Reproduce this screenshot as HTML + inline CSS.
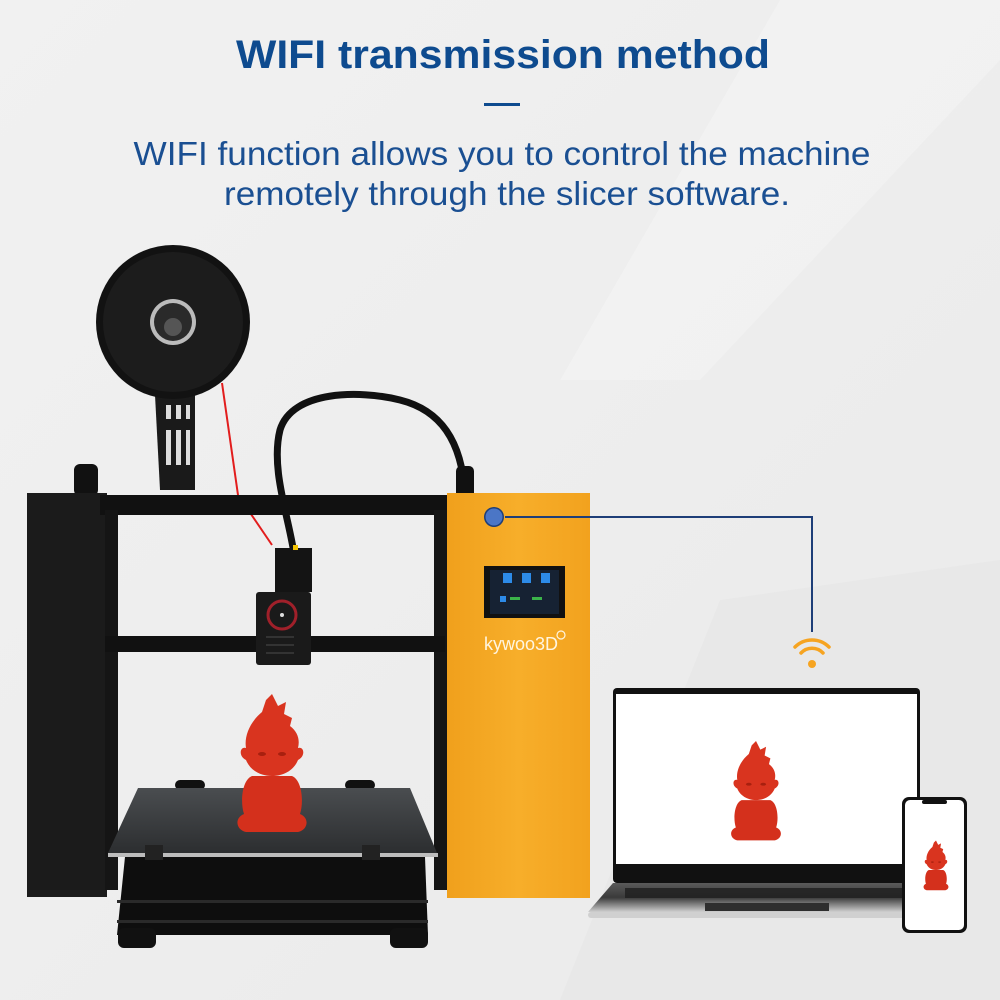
<!DOCTYPE html>
<html><head><meta charset="utf-8"><style>
html,body{margin:0;padding:0;width:1000px;height:1000px;overflow:hidden}
svg{display:block}
</style></head><body>
<svg width="1000" height="1000" viewBox="0 0 1000 1000" xmlns="http://www.w3.org/2000/svg">
<defs>
<linearGradient id="bg" x1="0" y1="0" x2="1" y2="1"><stop offset="0" stop-color="#f1f1f1"/><stop offset="1" stop-color="#eaeaea"/></linearGradient>
<linearGradient id="or" x1="0" y1="0" x2="1" y2="0"><stop offset="0" stop-color="#f0a01c"/><stop offset="0.5" stop-color="#f7ae2a"/><stop offset="1" stop-color="#f2a21e"/></linearGradient>
<linearGradient id="bed" x1="0" y1="0" x2="0" y2="1"><stop offset="0" stop-color="#4a4d50"/><stop offset="1" stop-color="#2c2e30"/></linearGradient>
<linearGradient id="kb" x1="0" y1="0" x2="0" y2="1"><stop offset="0" stop-color="#5a5a5a"/><stop offset="0.5" stop-color="#3a3a3a"/><stop offset="1" stop-color="#cfcfcf"/></linearGradient>
<g id="fig">
<path d="M0,-68 L6,-56 L14,-60 L12,-48 L20,-44 L18,-36 C26,-30 28,-22 26,-14 C32,-16 34,-6 26,-2 C22,8 12,14 0,14 C-12,14 -22,8 -26,-2 C-34,-6 -32,-16 -26,-14 C-28,-26 -22,-40 -10,-50 L-6,-62 Z" fill="#d9341f"/>
<path d="M-20,14 C-30,18 -32,40 -28,52 C-38,56 -36,68 -26,70 L26,70 C36,68 38,56 28,52 C32,40 30,18 20,14 Z" fill="#d4301c"/>
<ellipse cx="-10" cy="-8" rx="4" ry="2" fill="#a8200f"/><ellipse cx="10" cy="-8" rx="4" ry="2" fill="#a8200f"/>
</g>
</defs>
<rect width="1000" height="1000" fill="url(#bg)"/>
<polygon points="780,0 1000,0 1000,60 700,380 560,380" fill="#f5f5f5" opacity="0.5"/>
<polygon points="720,600 1000,560 1000,1000 560,1000" fill="#e6e6e6" opacity="0.6"/>

<text x="503" y="68" text-anchor="middle" font-family="Liberation Sans, sans-serif" font-weight="bold" font-size="40" fill="#0e4b8f" textLength="534" lengthAdjust="spacingAndGlyphs">WIFI transmission method</text>
<rect x="484" y="103" width="36" height="3" fill="#0e4b8f"/>
<text x="502" y="165" text-anchor="middle" font-family="Liberation Sans, sans-serif" font-size="33" fill="#1a4f92" textLength="737" lengthAdjust="spacingAndGlyphs">WIFI function allows you to control the machine</text>
<text x="507" y="205" text-anchor="middle" font-family="Liberation Sans, sans-serif" font-size="33" fill="#1a4f92" textLength="566" lengthAdjust="spacingAndGlyphs">remotely through the slicer software.</text>

<!-- spool holder -->
<path d="M155,395 L195,395 L195,490 L160,490 Z" fill="#1a1a1a"/>
<rect x="166" y="405" width="5" height="14" fill="#ddd"/><rect x="176" y="405" width="5" height="14" fill="#ddd"/><rect x="186" y="405" width="4" height="14" fill="#ddd"/>
<rect x="166" y="430" width="5" height="35" fill="#ddd"/><rect x="176" y="430" width="5" height="35" fill="#ddd"/><rect x="186" y="430" width="4" height="35" fill="#ddd"/>
<circle cx="173" cy="322" r="77" fill="#121212"/>
<circle cx="173" cy="322" r="70" fill="#1c1c1c"/>
<circle cx="173" cy="322" r="23" fill="#bbb"/>
<circle cx="173" cy="322" r="19" fill="#2a2a2a"/>
<circle cx="173" cy="327" r="9" fill="#555"/>
<path d="M222,383 L238,495 L272,545" stroke="#e21d1d" stroke-width="2" fill="none"/>

<!-- cable -->
<path d="M295,560 C290,520 270,470 280,430 C292,390 360,390 400,400 C440,410 462,440 465,495" stroke="#111" stroke-width="7" fill="none"/>

<!-- frame -->
<rect x="74" y="464" width="24" height="32" rx="6" fill="#111"/>
<rect x="456" y="466" width="18" height="32" rx="5" fill="#111"/>
<rect x="27" y="493" width="80" height="404" fill="#1b1b1b"/>
<rect x="100" y="495" width="350" height="20" fill="#111"/>
<rect x="105" y="510" width="13" height="380" fill="#151515"/>
<rect x="434" y="510" width="14" height="380" fill="#151515"/>
<rect x="105" y="636" width="340" height="16" fill="#111"/>

<!-- extruder -->
<rect x="275" y="548" width="37" height="44" fill="#141414"/>
<rect x="256" y="592" width="55" height="73" rx="3" fill="#1a1a1a"/>
<circle cx="282" cy="615" r="14" fill="none" stroke="#a0202a" stroke-width="3"/>
<circle cx="282" cy="615" r="2" fill="#ddd"/>
<rect x="266" y="636" width="28" height="2" fill="#333"/><rect x="266" y="644" width="28" height="2" fill="#333"/><rect x="266" y="652" width="28" height="2" fill="#333"/>
<rect x="293" y="545" width="5" height="5" fill="#f2c200"/>

<!-- bed -->
<rect x="175" y="780" width="30" height="10" rx="5" fill="#111"/>
<rect x="345" y="780" width="30" height="10" rx="5" fill="#111"/>
<polygon points="138,788 410,788 437,853 108,853" fill="url(#bed)"/>
<rect x="108" y="853" width="330" height="4" fill="#bcbcbc"/>
<polygon points="125,857 425,857 428,935 117,935" fill="#0e0e0e"/>
<rect x="117" y="900" width="311" height="3" fill="#2a2a2a"/>
<rect x="117" y="920" width="311" height="3" fill="#2a2a2a"/>
<rect x="118" y="928" width="38" height="20" rx="6" fill="#111"/>
<rect x="390" y="928" width="38" height="20" rx="6" fill="#111"/>
<rect x="145" y="845" width="18" height="15" fill="#222"/><rect x="362" y="845" width="18" height="15" fill="#222"/>

<use href="#fig" x="272" y="762"/>

<!-- orange column -->
<rect x="447" y="493" width="143" height="405" fill="url(#or)"/>
<rect x="484" y="566" width="81" height="52" fill="#111"/>
<rect x="490" y="570" width="69" height="44" fill="#162233"/>
<rect x="503" y="573" width="9" height="10" fill="#2d8be8"/><rect x="522" y="573" width="9" height="10" fill="#2d8be8"/><rect x="541" y="573" width="9" height="10" fill="#2d8be8"/>
<rect x="500" y="596" width="6" height="6" fill="#2d8be8"/><rect x="510" y="597" width="10" height="3" fill="#3bb34a"/><rect x="532" y="597" width="10" height="3" fill="#3bb34a"/>
<text x="484" y="650" font-family="Liberation Sans, sans-serif" font-size="18" fill="#fff5e0">kywoo3D</text>
<circle cx="561" cy="635" r="4" fill="none" stroke="#fff5e0" stroke-width="1.2"/>
<path d="M505,517 H812 V632" stroke="#1e3e78" stroke-width="2" fill="none"/>
<circle cx="494" cy="517" r="10" fill="#1e3e78"/>
<circle cx="494" cy="517" r="8.5" fill="#4b76c6"/>

<!-- wifi -->
<g fill="none" stroke="#f6a421" stroke-width="3.5" stroke-linecap="round">
<path d="M795,647 A24,24 0 0 1 829,647"/>
<path d="M801,653 A15,15 0 0 1 823,653"/>
</g>
<circle cx="812" cy="664" r="4" fill="#f6a421"/>

<!-- laptop -->
<rect x="613" y="688" width="307" height="195" rx="4" fill="#111"/>
<rect x="616" y="694" width="301" height="170" fill="#fff"/>
<polygon points="613,883 920,883 945,912 588,912" fill="url(#kb)"/>
<rect x="625" y="888" width="290" height="10" fill="#1e1e1e" opacity="0.8"/>
<rect x="705" y="903" width="124" height="8" fill="#2e2e2e"/>
<rect x="588" y="912" width="357" height="6" rx="3" fill="#d0d0d0"/>
<use href="#fig" x="756" y="790" transform="translate(756,790) scale(0.72) translate(-756,-790)"/>

<!-- phone -->
<rect x="902" y="797" width="65" height="136" rx="7" fill="#111"/>
<rect x="905" y="800" width="59" height="130" rx="5" fill="#fff"/>
<rect x="922" y="800" width="25" height="4" rx="2" fill="#111"/>
<use href="#fig" x="936" y="865" transform="translate(936,865) scale(0.36) translate(-936,-865)"/>
</svg>
</body></html>
